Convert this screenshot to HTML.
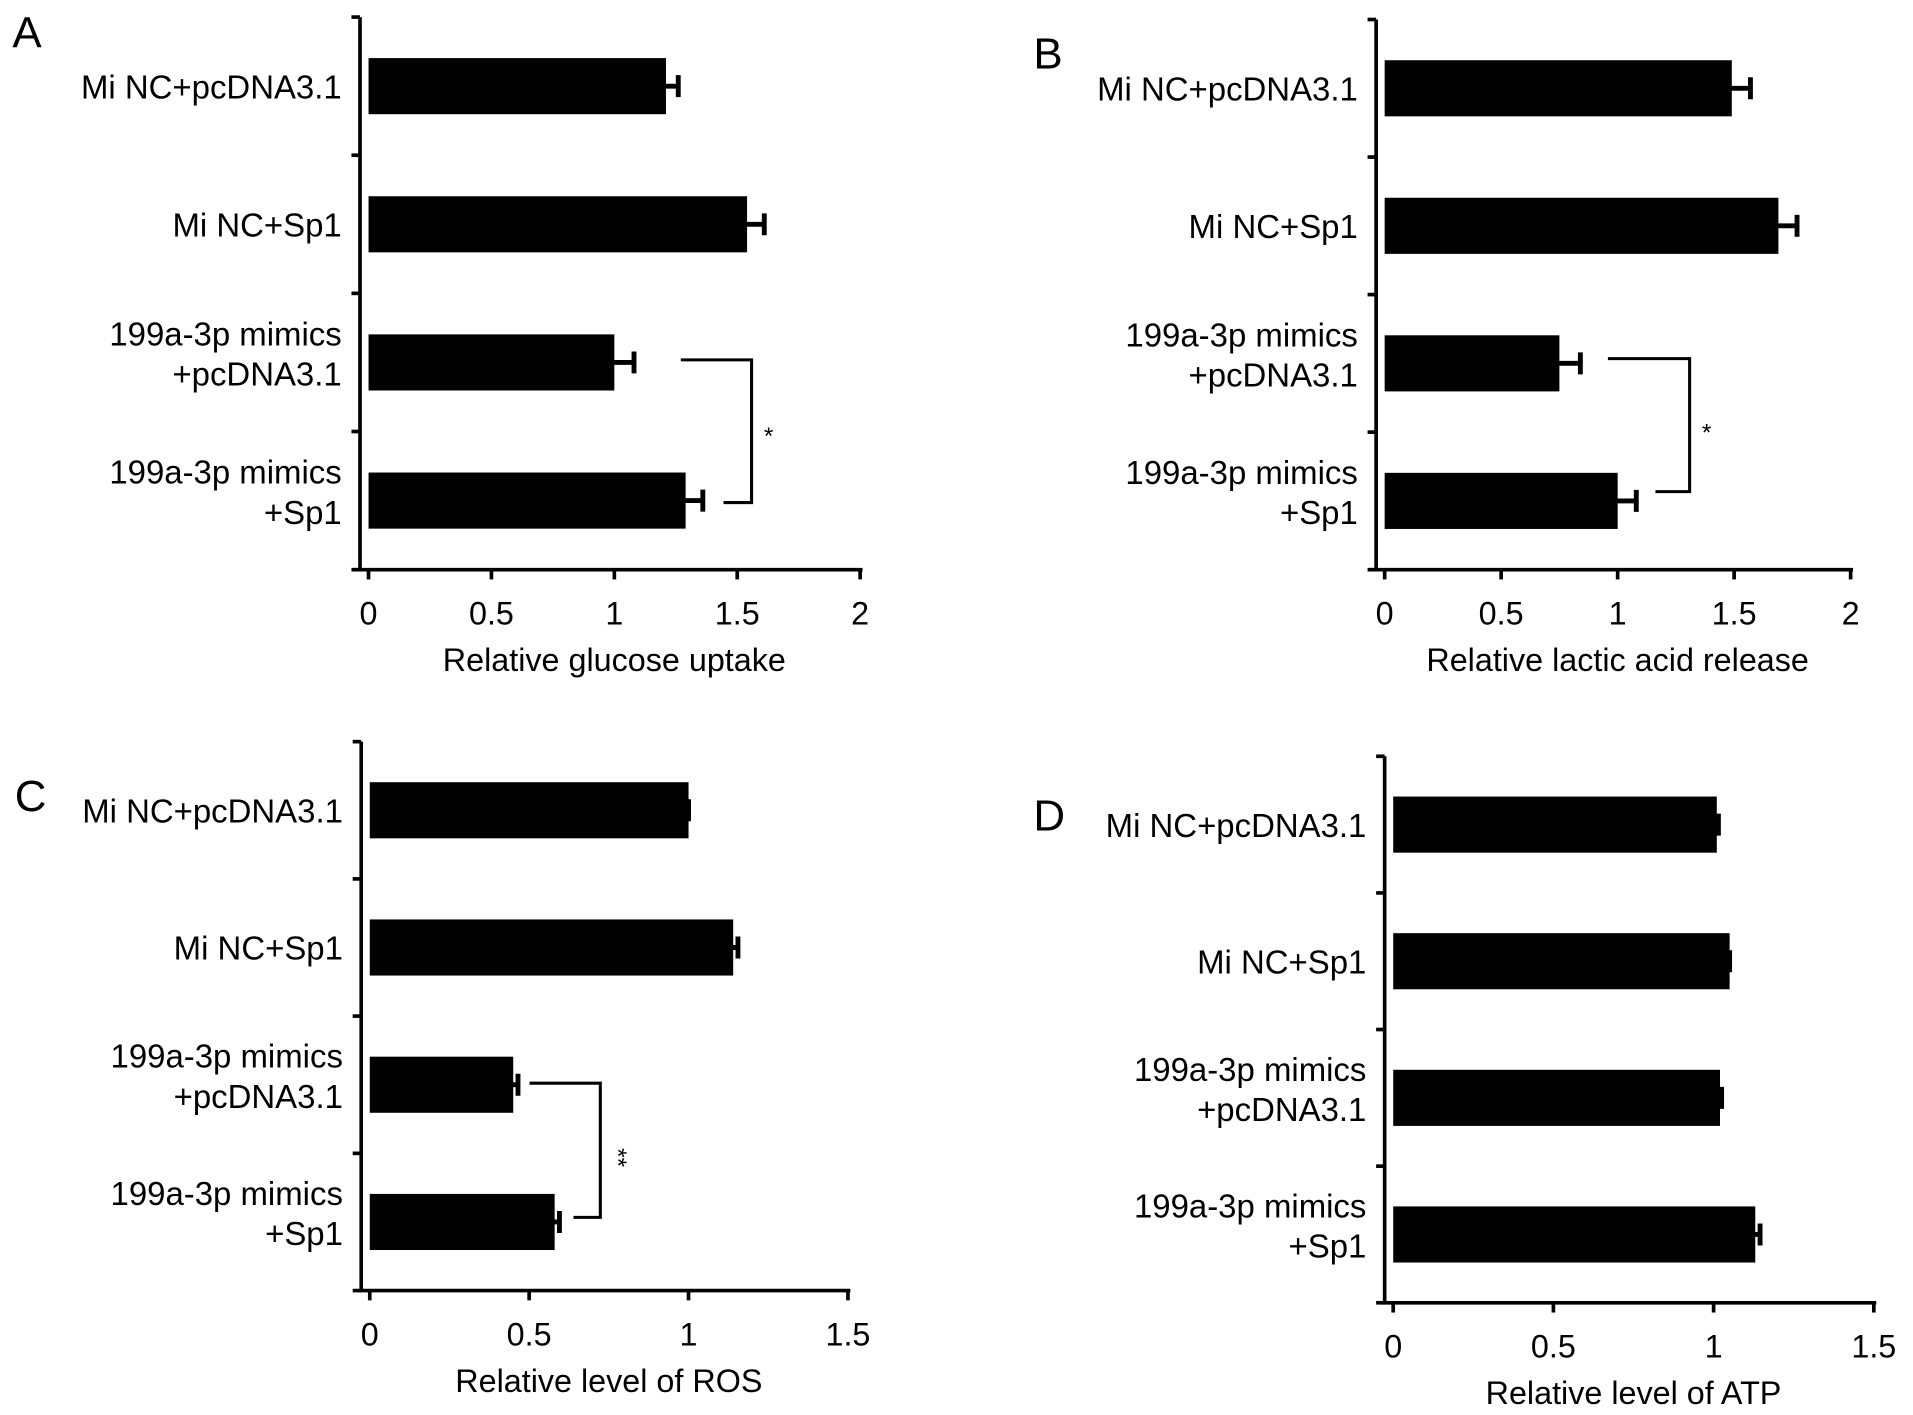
<!DOCTYPE html>
<html><head><meta charset="utf-8"><style>
html,body{margin:0;padding:0;background:#fff;}
svg{display:block;font-family:"Liberation Sans",Arial,sans-serif;}
</style></head><body>
<svg id="fig" width="1913" height="1415" viewBox="0 0 1568 1160" xmlns="http://www.w3.org/2000/svg"></svg>
<script>
// ---- data ----
const categories = [["Mi NC+pcDNA3.1"],["Mi NC+Sp1"],["199a-3p mimics","+pcDNA3.1"],["199a-3p mimics","+Sp1"]];
const glucoseValues = [1.21, 1.54, 1.0, 1.29];
const glucoseErrors = [0.05, 0.07, 0.08, 0.07];
const glucoseTicks = ["0","0.5","1","1.5","2"];
const lacticValues = [1.49, 1.69, 0.75, 1.0];
const lacticErrors = [0.08, 0.08, 0.09, 0.08];
const lacticTicks = ["0","0.5","1","1.5","2"];
const rosValues = [1.0, 1.14, 0.45, 0.58];
const rosErrors = [0.0, 0.015, 0.015, 0.015];
const rosTicks = ["0","0.5","1","1.5"];
const atpValues = [1.01, 1.05, 1.02, 1.13];
const atpErrors = [0.005, 0.0, 0.005, 0.015];
const atpTicks = ["0","0.5","1","1.5"];

const NS = "http://www.w3.org/2000/svg";
const svg = document.getElementById("fig");
function el(tag, attrs, parent, text){
  const e = document.createElementNS(NS, tag);
  for (const k in attrs) e.setAttribute(k, attrs[k]);
  if (text !== undefined) e.textContent = text;
  (parent || svg).appendChild(e);
  return e;
}

function panel(cfg, values, errors, ticks){
  const g = el("g", {});
  
  
  const max = parseFloat(ticks[ticks.length-1]);
  const xs = v => cfg.x0 + (v / max) * (cfg.x1 - cfg.x0);
  const bandH = (cfg.yb - cfg.yt) / categories.length;
  const bandY = i => cfg.yt + bandH * i;
  const L = el("text", {x: cfg.lx, y: cfg.ly, "font-size": 36}, g, cfg.letter);
  
  
  values.forEach((v, i) => {
    const cy = bandY(i) + bandH/2;
    const h = 46;
    const r = el("rect", {x: xs(0), y: cy - h/2, width: xs(v) - xs(0), height: h, fill: "#000"}, g);
    
    
    const ex = xs(v + errors[i]);
    const eb = el("path", {d: `M${xs(v)-2},${cy}H${ex}M${ex},${cy-9}V${cy+9}`, stroke: "#000", "stroke-width": 4, fill: "none"}, g);
    
    
    const lines = categories[i];
    lines.forEach((s, j) => {
      const ty = lines.length === 1 ? cy + 10 : cy - 14 + j * 33;
      const t = el("text", {x: cfg.x0 - 22, y: ty, "font-size": 27, "text-anchor": "end"}, g, s);
      
      
    });
  });
  const ax = el("path", {d: `M${cfg.x0-7},${cfg.yt}V${cfg.yb}H${cfg.x1+2}`, stroke: "#000", "stroke-width": 3, fill: "none"}, g);
  
  
  for (let i = 0; i <= categories.length; i++){
    const tk = el("line", {x1: cfg.x0-14, x2: cfg.x0-7, y1: bandY(i), y2: bandY(i), stroke: "#000", "stroke-width": 3}, g);
    
    
  }
  ticks.forEach(t => {
    const x = xs(parseFloat(t));
    const tk = el("line", {x1: x, x2: x, y1: cfg.yb, y2: cfg.yb + 8, stroke: "#000", "stroke-width": 3}, g);
    
    
    const tl = el("text", {x: x, y: cfg.yb + 45, "font-size": 26.5, "text-anchor": "middle"}, g, t);
    
    
  });
  const title = el("text", {x: (cfg.x0 + cfg.x1)/2, y: cfg.yb + 83, "font-size": 26.5, "text-anchor": "middle"}, g, cfg.title);
  
  
  const b = cfg.br;
  const br = el("path", {d: `M${b.xa},${b.y1}H${b.xv}V${b.y2}H${b.xb}`, stroke: "#000", "stroke-width": 2.5, fill: "none"}, g);
  
  
  const st = el("text", {x: b.sx, y: b.sy, "font-size": 20, "text-anchor": "middle", transform: b.rot ? `rotate(90 ${b.sx} ${b.sy - 6})` : ""}, g, b.star);
  
  
}

panel({letter:"A", lx:10, ly:39, x0:302, x1:705, yt:14, yb:467, title:"Relative glucose uptake",
  br:{xa:558, xv:616, xb:593, y1:295, y2:412, sx:630, sy:364, star:"*"}}, glucoseValues, glucoseErrors, glucoseTicks);
panel({letter:"B", lx:847, ly:56, x0:1135, x1:1517, yt:16, yb:467, title:"Relative lactic acid release",
  br:{xa:1318, xv:1385, xb:1357, y1:294, y2:403, sx:1399, sy:361, star:"*"}}, lacticValues, lacticErrors, lacticTicks);
panel({letter:"C", lx:12, ly:665, x0:303, x1:695, yt:608, yb:1058, title:"Relative level of ROS",
  br:{xa:434, xv:492, xb:470, y1:888, y2:998, sx:506, sy:955, star:"**", rot:true}}, rosValues, rosErrors, rosTicks);
panel({letter:"D", lx:847, ly:681, x0:1142, x1:1536, yt:620, yb:1068, title:"Relative level of ATP",
  br:{xa:0, xv:0, xb:0, y1:0, y2:0, sx:-50, sy:-50, star:""}}, atpValues, atpErrors, atpTicks);
</script>
</body></html>
